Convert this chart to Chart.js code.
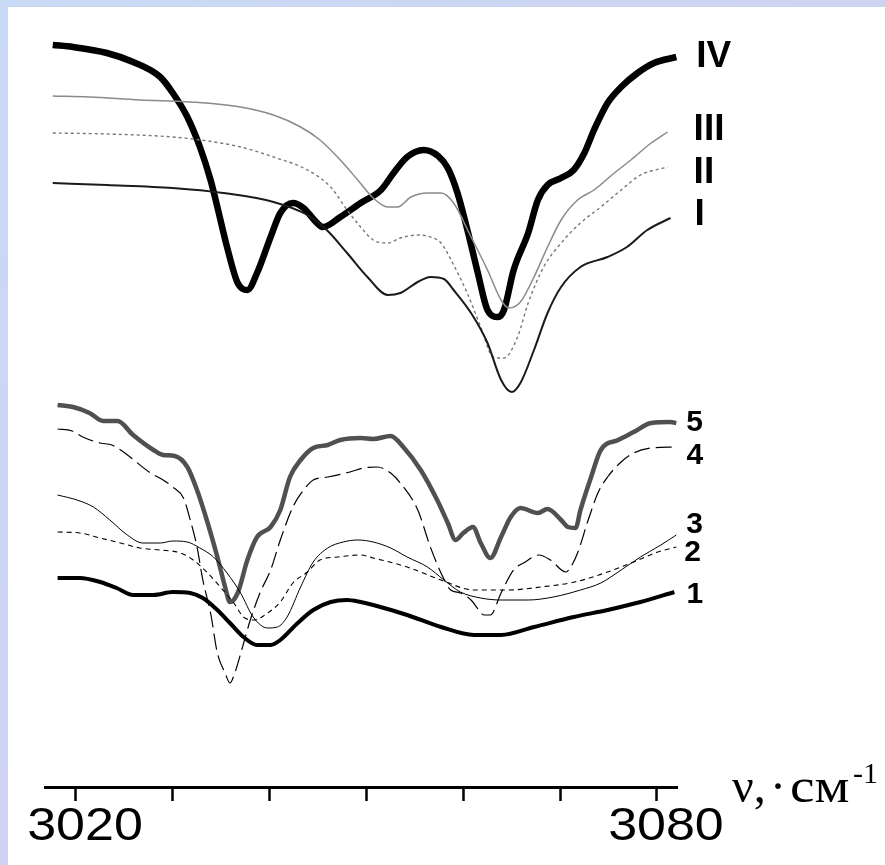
<!DOCTYPE html>
<html><head><meta charset="utf-8">
<script src="https://cdn.jsdelivr.net/npm/chart.js@4.4.1/dist/chart.umd.min.js"></script>
<style>
html,body{margin:0;padding:0;background:#c6d8f2;overflow:hidden}
canvas{display:block}
</style></head><body>
<canvas id="c" width="885" height="865"></canvas>
<script>
// ---- data (wavenumber, cm-1  /  transmittance, arbitrary units) ----
const tickValues = [3020, 3030, 3040, 3050, 3060, 3070, 3080];
const labeledTicks = [3020, 3080];

const ivX = [3017.6,3019.7,3023.2,3025.9,3028.7,3030.0,3031.5,3032.8,3033.9,3034.6,3035.6,3036.7,3037.7,3038.7,3040.1,3041.1,3042.4,3043.5,3044.9,3045.5,3047.3,3049.4,3051.5,3052.8,3054.2,3055.9,3057.4,3058.4,3059.4,3060.5,3061.5,3062.5,3063.6,3064.2,3065.2,3066.7,3067.7,3068.7,3070.1,3071.4,3072.5,3073.5,3074.9,3076.3,3078.0,3079.7,3082.0];
const ivY = [743,741,735,726,711,695,671,641,608,581,541,505,498,515,551,575,585,580,565,561,571,585,598,615,631,638,632,620,595,555,515,478,471,478,518,555,588,603,610,618,635,658,685,701,715,725,731];

const iiiX = [3017.6,3021.4,3026.6,3031.8,3037.0,3040.4,3043.2,3045.2,3047.3,3049.1,3050.7,3052.2,3053.2,3054.6,3056.3,3057.7,3059.0,3060.8,3062.5,3063.9,3064.7,3065.9,3067.3,3068.7,3070.1,3071.8,3073.5,3075.6,3077.3,3079.4,3081.1];
const iiiY = [692,691,688,686,681,673,661,648,628,608,590,581,581,591,595,595,585,551,518,488,480,486,511,541,568,588,598,615,628,645,656];

const iiX = [3017.6,3023.2,3030.0,3033.6,3037.0,3040.4,3043.9,3046.3,3048.0,3049.4,3050.7,3052.2,3053.5,3055.3,3056.9,3057.7,3059.0,3060.4,3061.8,3063.1,3064.2,3065.6,3066.7,3068.3,3070.1,3072.1,3074.2,3076.3,3078.3,3081.1];
const iiY = [655,654,651,647,641,631,618,601,578,561,548,545,550,553,550,545,523,495,461,431,430,451,485,521,545,565,581,598,613,621];

const iX = [3017.6,3023.2,3030.0,3035.2,3040.4,3043.9,3045.9,3048.0,3050.1,3052.2,3053.5,3055.3,3056.6,3058.0,3059.0,3060.8,3062.5,3063.9,3065.0,3065.9,3067.3,3068.7,3070.1,3072.1,3074.9,3076.9,3079.0,3081.4];
const iY = [605,603,600,595,586,573,558,535,511,493,495,506,511,509,498,475,445,408,396,405,438,475,501,521,531,541,558,570];

const s5X = [3018.1,3019.7,3021.4,3022.8,3024.3,3025.9,3028.0,3029.0,3030.2,3031.5,3032.5,3033.6,3034.6,3035.4,3035.9,3036.7,3037.7,3038.7,3040.1,3041.1,3042.1,3043.2,3044.5,3046.0,3047.3,3049.4,3050.7,3052.5,3053.8,3055.6,3057.3,3058.4,3059.2,3060.0,3061.0,3061.8,3062.8,3063.9,3064.9,3065.9,3067.7,3068.7,3070.1,3070.8,3071.6,3072.1,3073.2,3074.2,3076.0,3077.6,3079.4,3081.4,3082.0];
const s5Y = [383,381,375,367,367,353,338,333,332,321,298,265,231,201,186,195,228,251,261,278,311,328,340,343,348,350,349,352,341,318,288,265,248,255,261,245,230,251,271,280,275,279,268,261,260,278,311,338,348,356,365,366,365];

const s4X = [3018.1,3019.6,3020.7,3022.5,3023.7,3024.9,3027.7,3029.0,3030.0,3031.1,3031.8,3032.5,3033.1,3033.9,3034.6,3035.4,3035.9,3036.4,3037.2,3038.0,3039.0,3040.1,3041.1,3042.4,3043.5,3044.5,3046.0,3048.3,3049.7,3051.1,3052.5,3053.5,3055.3,3056.6,3057.7,3058.7,3059.7,3060.8,3061.6,3062.1,3062.8,3063.9,3065.2,3066.4,3067.8,3069.0,3070.6,3071.1,3071.8,3072.9,3073.9,3074.9,3076.3,3077.6,3079.4,3081.8];
const s4Y = [359,357,351,345,343,336,315,308,301,290,268,241,208,175,135,115,105,115,141,168,195,218,248,281,298,308,311,316,320,321,315,305,278,241,215,198,195,188,178,173,173,195,218,226,233,228,216,221,235,268,295,311,326,335,340,341];

const s3X = [3018.1,3020.1,3021.8,3023.5,3025.3,3026.9,3028.7,3030.0,3031.5,3032.8,3034.2,3035.6,3037.0,3038.3,3039.8,3040.8,3041.8,3043.2,3044.5,3046.0,3047.6,3049.1,3050.7,3052.5,3054.2,3056.3,3058.0,3059.7,3061.8,3063.9,3066.7,3069.3,3072.1,3074.2,3076.3,3078.3,3080.4,3082.0];
const s3Y = [293,288,281,268,253,245,245,247,246,240,231,215,195,171,160,161,171,201,226,240,246,248,246,240,231,221,208,196,190,188,188,191,198,205,218,231,243,253];

const s2X = [3018.1,3020.4,3022.5,3024.6,3026.6,3028.7,3030.8,3032.1,3033.6,3034.9,3036.3,3037.3,3038.4,3039.8,3041.1,3042.4,3043.9,3045.2,3047.0,3049.4,3050.7,3054.2,3057.7,3061.1,3064.6,3068.0,3071.5,3074.9,3077.6,3080.1,3082.0];
const s2Y = [256,255,250,245,240,238,235,228,215,201,185,171,168,175,186,205,216,228,231,233,230,221,208,198,198,201,206,216,226,236,241];

const s1X = [3018.1,3020.4,3022.5,3024.2,3025.9,3028.0,3030.0,3031.8,3033.1,3034.6,3035.9,3037.3,3038.7,3040.1,3041.1,3042.9,3044.5,3046.3,3048.0,3049.4,3050.7,3054.2,3057.7,3061.1,3063.9,3067.3,3071.4,3074.9,3078.3,3081.8];
const s1Y = [210,210,206,200,193,193,196,195,190,178,165,151,143,143,148,165,178,186,188,186,183,173,161,153,153,161,171,178,186,196];

// ---- build ----
const zip = (xs, ys) => xs.map((x, i) => ({ x: x, y: ys[i] }));

function series(name, xs, ys, style) {
  return Object.assign({
    label: name, data: zip(xs, ys), pointRadius: 0, fill: false,
    cubicInterpolationMode: 'monotone', borderJoinStyle: 'round', borderCapStyle: 'butt'
  }, style);
}

const datasets = [
  series('1', s1X, s1Y, { borderColor: '#000', borderWidth: 4, tag: { dx: 12, dy: 3 } }),
  series('2', s2X, s2Y, { borderColor: '#000', borderWidth: 1.1, borderDash: [5, 4], tag: { dx: 8, dy: 6 } }),
  series('3', s3X, s3Y, { borderColor: '#000', borderWidth: 1, tag: { dx: 10, dy: -10 } }),
  series('4', s4X, s4Y, { borderColor: '#000', borderWidth: 1.2, borderDash: [16, 6], tag: { dx: 12, dy: 9 } }),
  series('5', s5X, s5Y, { borderColor: '#505050', borderWidth: 4.5, tag: { dx: 10, dy: 0 } }),
  series('I', iX, iY, { borderColor: '#1a1a1a', borderWidth: 2, tag: { dx: 24, dy: -3 } }),
  series('II', iiX, iiY, { borderColor: '#777', borderWidth: 1.4, borderDash: [3, 3], tag: { dx: 26, dy: 6 } }),
  series('III', iiiX, iiiY, { borderColor: '#8a8a8a', borderWidth: 1.5, tag: { dx: 26, dy: -2 } }),
  series('IV', ivX, ivY, { borderColor: '#000', borderWidth: 6.5, tag: { dx: 20, dy: 0 } })
];

const bgPlugin = {
  id: 'bg',
  beforeDraw(chart) {
    const ctx = chart.ctx, W = chart.width, H = chart.height;
    ctx.save();
    const g = ctx.createLinearGradient(0, 0, W, H);
    g.addColorStop(0, '#c9daf5');
    g.addColorStop(0.5, '#cfd3f2');
    g.addColorStop(1, '#c3d6f0');
    ctx.fillStyle = g;
    ctx.fillRect(0, 0, W, H);
    ctx.fillStyle = '#ffffff';
    ctx.fillRect(8, 7, W - 8, H - 7);
    ctx.restore();
  }
};

const tagPlugin = {
  id: 'tags',
  afterDatasetsDraw(chart) {
    const ctx = chart.ctx;
    ctx.save();
    ctx.fillStyle = '#000';
    ctx.textAlign = 'left';
    ctx.textBaseline = 'middle';
    chart.data.datasets.forEach((ds, i) => {
      const meta = chart.getDatasetMeta(i);
      const last = meta.data[meta.data.length - 1];
      const roman = /^[IV]+$/.test(ds.label);
      ctx.font = roman ? 'bold 37px "Liberation Sans", Arial, sans-serif' : 'bold 30px "Liberation Sans", Arial, sans-serif';
      ctx.fillText(ds.label, last.x + ds.tag.dx, last.y + ds.tag.dy);
    });
    ctx.restore();
  }
};

const axisPlugin = {
  id: 'axisText',
  afterDraw(chart) {
    const ctx = chart.ctx, xs = chart.scales.x, area = chart.chartArea;
    ctx.save();
    ctx.fillStyle = '#000';
    ctx.textBaseline = 'alphabetic';
    // tick labels
    labeledTicks.forEach(v => {
      ctx.save();
      ctx.translate(xs.getPixelForValue(v) + 9, area.bottom + 53);
      ctx.scale(1.13, 1);
      ctx.textAlign = 'center';
      ctx.font = '46px "Liberation Sans", Arial, sans-serif';
      ctx.fillText(String(v), 0, 0);
      ctx.restore();
    });
    // axis title  "ν, ·см⁻¹"
    const base = area.bottom + 15;
    ctx.textAlign = 'left';
    ctx.font = '48px "Liberation Serif", "Times New Roman", serif';
    ctx.fillText('\u03BD,', area.right + 55, base);
    ctx.textAlign = 'center';
    ctx.fillText('\u00B7', area.right + 101, base);
    ctx.textAlign = 'left';
    ctx.save();
    ctx.translate(area.right + 113, base);
    ctx.scale(1.15, 1);
    ctx.fillText('\u0441\u043C', 0, 0);
    ctx.restore();
    ctx.font = '30px "Liberation Serif", "Times New Roman", serif';
    ctx.fillText('-1', area.right + 176, area.bottom - 4);
    ctx.restore();
  }
};

new Chart(document.getElementById('c'), {
  type: 'line',
  data: { datasets: datasets },
  plugins: [bgPlugin, tagPlugin, axisPlugin],
  options: {
    responsive: false,
    devicePixelRatio: 1,
    animation: false,
    events: [],
    layout: { padding: { left: 45, right: 208, top: 7, bottom: 0 } },
    plugins: { legend: { display: false }, tooltip: { enabled: false }, title: { display: false } },
    scales: {
      x: {
        type: 'linear', min: 3016.8, max: 3082.07,
        afterBuildTicks(s) { s.ticks = tickValues.map(v => ({ value: v })); },
        afterFit(s) { s.height = 78; },
        ticks: { display: false },
        grid: { drawOnChartArea: false, drawTicks: true, tickLength: 14, tickWidth: 2.5, tickColor: '#000' },
        border: { display: true, color: '#000', width: 3 }
      },
      y: { display: false, min: 1, max: 781 }
    }
  }
});
</script>
</body></html>
